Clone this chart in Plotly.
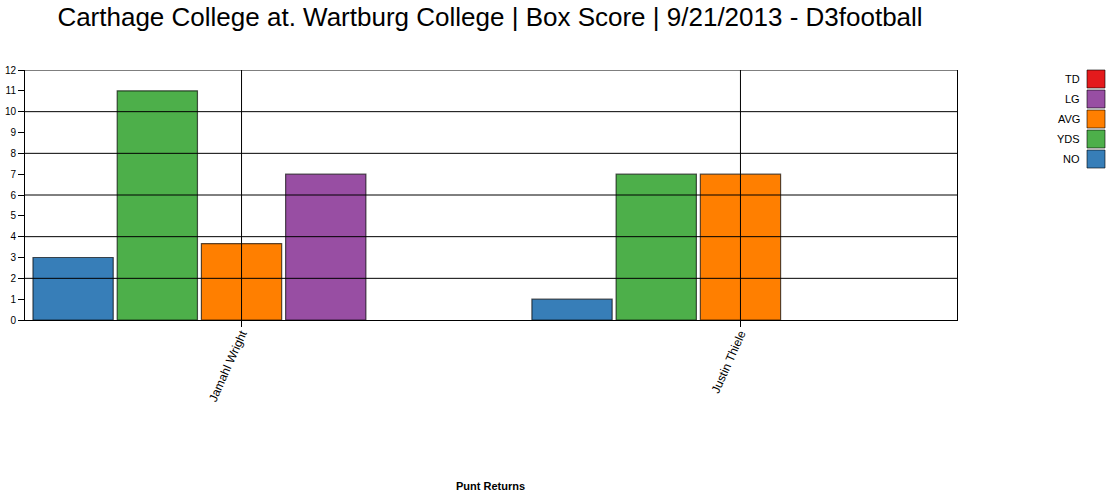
import plotly.graph_objects as go

# data
players = ["Jamahl Wright", "Justin Thiele"]
stats = ["NO", "YDS", "AVG", "LG", "TD"]
no_vals = [3, 1]
yds_vals = [11, 7]
avg_vals = [11 / 3, 7]
lg_vals = [7, 0]
td_vals = [0, 0]
y_ticks = list(range(0, 13))
grid_vals = [2, 4, 6, 8, 10, 12]

colors = {"NO": "#377eb8", "YDS": "#4daf4a", "AVG": "#ff7f00",
          "LG": "#984ea3", "TD": "#e41a1c"}
series = {"NO": no_vals, "YDS": yds_vals, "AVG": avg_vals,
          "LG": lg_vals, "TD": td_vals}

W, H = 1116, 498
L, R, T, B = 25, 957, 70, 320   # plot area in pixels


def px_x(p):
    return (p - L) / (R - L)


def px_y(p):
    return (B - p) / (B - T)


fig = go.Figure()
for s in stats:
    vals = series[s]
    fig.add_trace(go.Bar(
        name=s, x=players, y=vals,
        marker=dict(color=colors[s],
                    line=dict(color="rgba(0,0,0,0.65)",
                              width=[0 if v == 0 else 1.2 for v in vals])),
        showlegend=False,
    ))

shapes = []
# horizontal grid lines (drawn on top of bars like the original)
for g in grid_vals:
    shapes.append(dict(type="line", xref="paper", x0=0, x1=1, yref="y", y0=g, y1=g,
                       line=dict(color="black", width=1), layer="above"))
# vertical grid lines at the category centres
for p in players:
    shapes.append(dict(type="line", xref="x", x0=p, x1=p, yref="y", y0=0, y1=12,
                       line=dict(color="black", width=1), layer="above"))

# hand-made legend: label on the left, swatch on the right
annotations = []
legend_order = ["TD", "LG", "AVG", "YDS", "NO"]
for i, s in enumerate(legend_order):
    top = 70 + 20 * i
    shapes.append(dict(type="rect", xref="paper", yref="paper",
                       x0=px_x(1087), x1=px_x(1105), y0=px_y(top), y1=px_y(top + 18),
                       fillcolor=colors[s], line=dict(color="rgba(0,0,0,0.6)", width=1)))
    annotations.append(dict(text=s, xref="paper", yref="paper", x=px_x(1082), y=px_y(top + 9),
                            xanchor="right", yanchor="middle", showarrow=False,
                            font=dict(size=11, color="black")))

annotations.append(dict(text="<b>Punt Returns</b>", xref="paper", yref="paper",
                        x=px_x(490), y=px_y(486), xanchor="center", yanchor="middle",
                        showarrow=False, font=dict(size=11, color="black")))

fig.update_layout(
    width=W, height=H,
    margin=dict(l=L, r=W - R, t=T, b=H - B, pad=0, autoexpand=False),
    paper_bgcolor="white", plot_bgcolor="white",
    font=dict(family="Liberation Sans, Arial, sans-serif", color="black"),
    title=dict(text="Carthage College at. Wartburg College | Box Score | 9/21/2013 - D3football",
               x=490 / W, xanchor="center", xref="container",
               y=1 - 8 / H, yanchor="top", yref="container",
               font=dict(size=26, color="black")),
    barmode="group", bargap=0.156, bargroupgap=0.047,
    shapes=shapes, annotations=annotations,
    xaxis=dict(type="category", range=[-0.434, 1.434], showgrid=False,
               showline=True, linecolor="black", linewidth=1,
               ticks="outside", ticklen=6, tickcolor="black",
               tickangle=-66, tickfont=dict(size=12), ticklabelstandoff=-5),
    yaxis=dict(range=[0, 12], tickvals=y_ticks, showgrid=False, zeroline=False,
               showline=True, linecolor="black", linewidth=1, mirror=True,
               ticks="outside", ticklen=6, tickcolor="black",
               tickfont=dict(size=10)),
)

# the page body would otherwise add an 8px margin around the figure
fig.write_html("out.html", config={"displayModeBar": False},
               post_script="document.body.style.margin='0';")
